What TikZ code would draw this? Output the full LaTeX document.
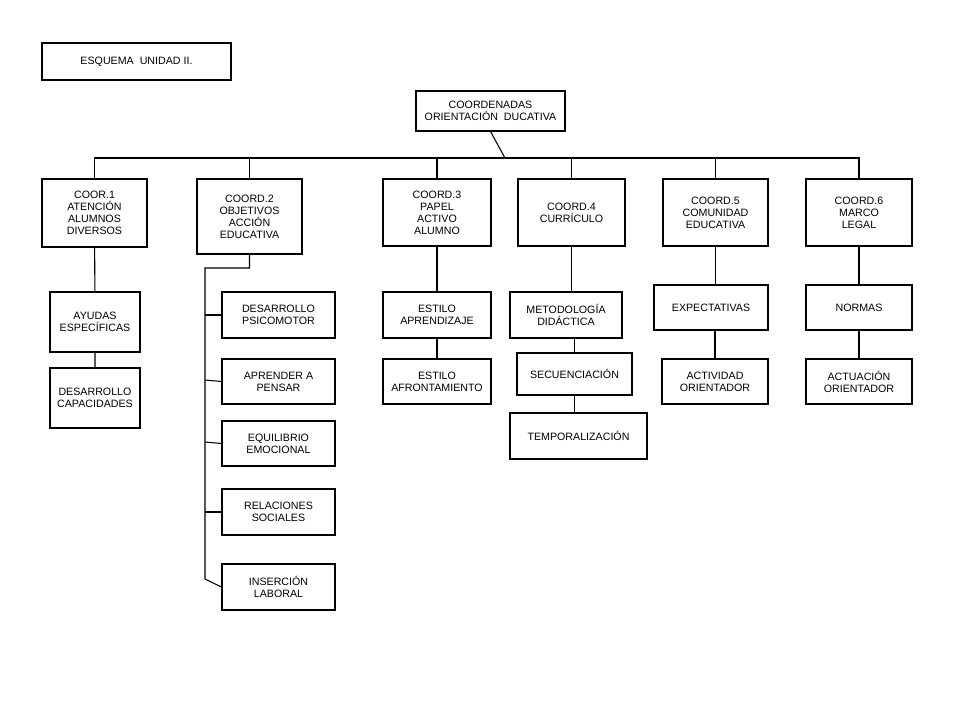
\documentclass[tikz,border=0pt]{standalone}
\usepackage{fontspec}
\setmainfont{Liberation Sans}
\tikzset{box/.style={draw, thick, align=center, inner sep=1pt, font=\fontsize{8}{9}\selectfont},
  line/.style={thick}}
% box from its corners in pixels
\newcommand{\bx}[6]{\node[box, minimum width={(#4-#2)*0.75pt}, minimum height={(#5-#3)*0.75pt}]
  (#1) at ({(#2+#4)/2},{(#3+#5)/2}) {#6};}
\begin{document}
\begin{tikzpicture}[x=0.75pt,y=-0.75pt]
\useasboundingbox (0,0) rectangle (960,720);
\bx{esq}{42}{43}{231}{80}{ESQUEMA\ \ UNIDAD II.}
\bx{coord}{416}{91}{565}{131}{COORDENADAS\\ORIENTACIÓN\ \ DUCATIVA}
\bx{c1}{42}{179}{147}{247}{COOR.1\\ATENCIÓN\\ALUMNOS\\DIVERSOS}
\bx{c2}{197}{179}{302}{254}{COORD.2\\OBJETIVOS\\ACCIÓN\\EDUCATIVA}
\bx{c3}{383}{179}{491}{246}{COORD.3\\PAPEL\\ACTIVO\\ALUMNO}
\bx{c4}{518}{179}{625}{246}{COORD.4\\CURRÍCULO}
\bx{c5}{663}{179}{768}{246}{COORD.5\\COMUNIDAD\\EDUCATIVA}
\bx{c6}{806}{179}{912}{246}{COORD.6\\MARCO\\LEGAL}
\bx{ayu}{50}{292}{140}{352}{AYUDAS\\ESPECÍFICAS}
\bx{cap}{50}{368}{140}{428}{DESARROLLO\\CAPACIDADES}
\bx{psi}{222}{292}{335}{338}{DESARROLLO\\PSICOMOTOR}
\bx{pen}{222}{359}{335}{404}{APRENDER A\\PENSAR}
\bx{equ}{222}{421}{335}{466}{EQUILIBRIO\\EMOCIONAL}
\bx{rel}{222}{489}{335}{535}{RELACIONES\\SOCIALES}
\bx{ins}{222}{564}{335}{610}{INSERCIÓN\\LABORAL}
\bx{apr}{383}{292}{491}{338}{ESTILO\\APRENDIZAJE}
\bx{afr}{383}{359}{491}{404}{ESTILO\\AFRONTAMIENTO}
\bx{met}{510}{292}{622}{338}{METODOLOGÍA\\DIDÁCTICA}
\bx{sec}{517}{353}{632}{395}{SECUENCIACIÓN}
\bx{tem}{510}{413}{647}{459}{TEMPORALIZACIÓN}
\bx{exp}{654}{285}{768}{330}{EXPECTATIVAS}
\bx{act}{662}{359}{768}{404}{ACTIVIDAD\\ORIENTADOR}
\bx{nor}{806}{285}{912}{330}{NORMAS}
\bx{acu}{806}{359}{912}{404}{ACTUACIÓN\\ORIENTADOR}
% tree
\coordinate (bus) at (505,158);
\draw[line] (coord.south) -- (bus);
\draw[line] (c1.north) |- (c6.north |- bus) -- (c6.north);
\foreach \c in {c2,c3,c4,c5}
  \draw[line] (\c.north) -- (\c.north |- bus);
\draw[line] (c1) -- (ayu) (ayu) -- (cap);
\draw[line] (c3) -- (apr) (apr) -- (afr);
\draw[line] (c4.south) -- (c4.south |- met.north) (met.south -| sec.north) -- (sec.north) (sec.south) -- (sec.south |- tem.north);
\draw[line] (c5.south) -- (c5.south |- exp.north) (exp.south -| act.north) -- (act.north);
\draw[line] (c6) -- (nor) (nor) -- (acu);
\coordinate (spine) at (205,268);
\draw[line] (c2.south) -- (c2.south |- spine) -- (spine) -- (205,579) -- (ins.west);
\foreach \b/\y in {psi/315,pen/380,equ/442,rel/512}
  \draw[line] (205,\y) -- (\b.west);
\end{tikzpicture}
\end{document}
